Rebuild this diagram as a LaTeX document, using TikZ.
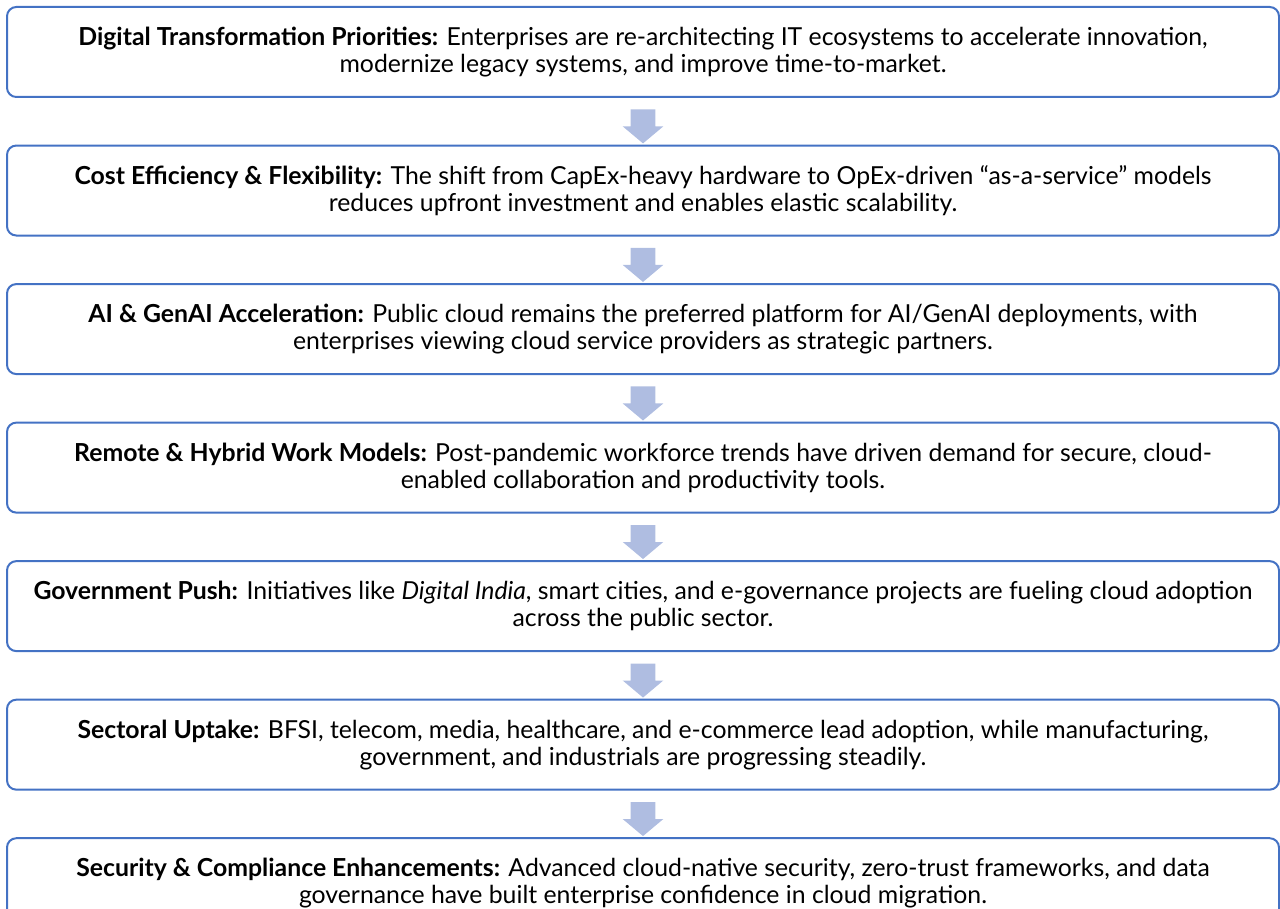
\documentclass[tikz,border=0pt]{standalone}
\usepackage{fontspec}
\setmainfont{Lato}
\usetikzlibrary{positioning,shapes.arrows}

\definecolor{boxblue}{HTML}{4472C4}
\definecolor{arrowblue}{HTML}{AFBDE1}

\tikzset{
  driver/.style={draw=boxblue, line width=1.5pt, rounded corners=7pt,
    minimum width=954pt, minimum height=67.5pt, align=center,
    inner sep=0pt, font=\fontsize{18.6}{20.4}\selectfont},
  downarrow/.style={single arrow, fill=arrowblue, draw=none,
    inner xsep=0pt, inner ysep=9pt, minimum height=25.5pt, minimum width=30pt,
    single arrow head extend=6pt, single arrow tip angle=100, rotate=-90},
}

\begin{document}
\begin{tikzpicture}
\useasboundingbox (0,0) rectangle (960pt,-681.75pt);

\node[driver] (d1) at (482.25pt,-39pt)
  {\textbf{Digital Transformation Priorities:} Enterprises are re-architecting IT ecosystems to accelerate innovation,\\
   modernize legacy systems, and improve time-to-market.};
\node[driver, below=34.9pt of d1] (d2)
  {\textbf{Cost Efficiency \& Flexibility:} The shift from CapEx-heavy hardware to OpEx-driven “as-a-service” models\\
   reduces upfront investment and enables elastic scalability.};
\node[driver, below=34.9pt of d2] (d3)
  {\textbf{AI \& GenAI Acceleration:} Public cloud remains the preferred platform for AI/GenAI deployments, with\\
   enterprises viewing cloud service providers as strategic partners.};
\node[driver, below=34.9pt of d3] (d4)
  {\textbf{Remote \& Hybrid Work Models:} Post-pandemic workforce trends have driven demand for secure, cloud-\\
   enabled collaboration and productivity tools.};
\node[driver, below=34.9pt of d4] (d5)
  {\textbf{Government Push:} Initiatives like \textit{Digital India}, smart cities, and e-governance projects are fueling cloud adoption\\
   across the public sector.};
\node[driver, below=34.9pt of d5] (d6)
  {\textbf{Sectoral Uptake:} BFSI, telecom, media, healthcare, and e-commerce lead adoption, while manufacturing,\\
   government, and industrials are progressing steadily.};
\node[driver, below=34.9pt of d6] (d7)
  {\textbf{Security \& Compliance Enhancements:} Advanced cloud-native security, zero-trust frameworks, and data\\
   governance have built enterprise confidence in cloud migration.};

% block arrows between the boxes
\path (d1.south) -- (d2.north) node[midway, downarrow] (a1) {};
\path (d2.south) -- (d3.north) node[midway, downarrow] (a2) {};
\path (d3.south) -- (d4.north) node[midway, downarrow] (a3) {};
\path (d4.south) -- (d5.north) node[midway, downarrow] (a4) {};
\path (d5.south) -- (d6.north) node[midway, downarrow] (a5) {};
\path (d6.south) -- (d7.north) node[midway, downarrow] (a6) {};
\end{tikzpicture}
\end{document}
